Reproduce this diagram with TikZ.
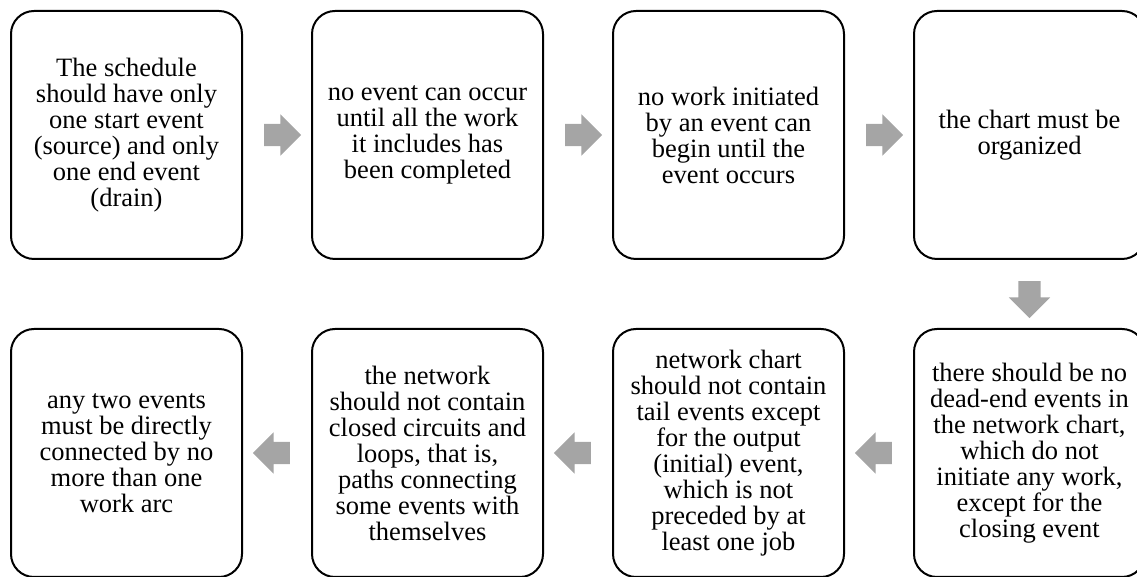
\documentclass[tikz,border=0pt]{standalone}
\usepackage{fontspec}
\setmainfont{Liberation Serif}
\usepackage{tikz}
\usetikzlibrary{positioning,calc,shapes.arrows}
\definecolor{arrowgray}{RGB}{165,165,165}

\begin{document}
\begin{tikzpicture}[node distance=70pt]
  \tikzstyle{rule}=[draw=black, line width=2pt, fill=white, rectangle,
     rounded corners=23pt, minimum width=231pt, minimum height=248pt,
     outer sep=0pt, inner sep=0pt, align=center,
     font=\fontsize{26.5pt}{26pt}\selectfont]
  \tikzstyle{blockarrow}=[single arrow, fill=arrowgray, draw=none,
     minimum height=37pt, minimum width=0pt, inner xsep=0pt, inner ysep=11pt,
     single arrow head extend=9.5pt, single arrow head indent=0pt]
\useasboundingbox (0,0) rectangle (1137pt,577pt);
% top row, left to right
\node[rule] (r1) at (126.5pt,442pt) {The schedule\\should have only\\one start event\\(source) and only\\one end event\\(drain)};
\node[rule, right=of r1] (r2) {no event can occur\\until all the work\\it includes has\\been completed};
\node[rule, right=of r2] (r3) {no work initiated\\by an event can\\begin until the\\event occurs};
\node[rule, right=of r3] (r4) {the chart must be\\organized};
% bottom row, right to left
\node[rule, below=of r4] (r5) {there should be no\\dead-end events in\\the network chart,\\which do not\\initiate any work,\\except for the\\closing event};
\node[rule, left=of r5] (r6) {network chart\\should not contain\\tail events except\\for the output\\(initial) event,\\which is not\\preceded by at\\least one job};
\node[rule, left=of r6] (r7) {the network\\should not contain\\closed circuits and\\loops, that is,\\paths connecting\\some events with\\themselves};
\node[rule, left=of r7] (r8) {any two events\\must be directly\\connected by no\\more than one\\work arc};
% arrows between the boxes
\node[blockarrow] (a12) at ($(r1.east)!0.5!(r2.west)$) {};
\node[blockarrow] (a23) at ($(r2.east)!0.5!(r3.west)$) {};
\node[blockarrow] (a34) at ($(r3.east)!0.5!(r4.west)$) {};
\node[blockarrow, rotate=-90] (a45) at ($(r4.south)!0.5!(r5.north)$) {};
\node[blockarrow, rotate=180] (a56) at ($(r5.west)!0.5!(r6.east)$) {};
\node[blockarrow, rotate=180] (a67) at ($(r6.west)!0.5!(r7.east)$) {};
\node[blockarrow, rotate=180] (a78) at ($(r7.west)!0.5!(r8.east)$) {};
\end{tikzpicture}
\end{document}
